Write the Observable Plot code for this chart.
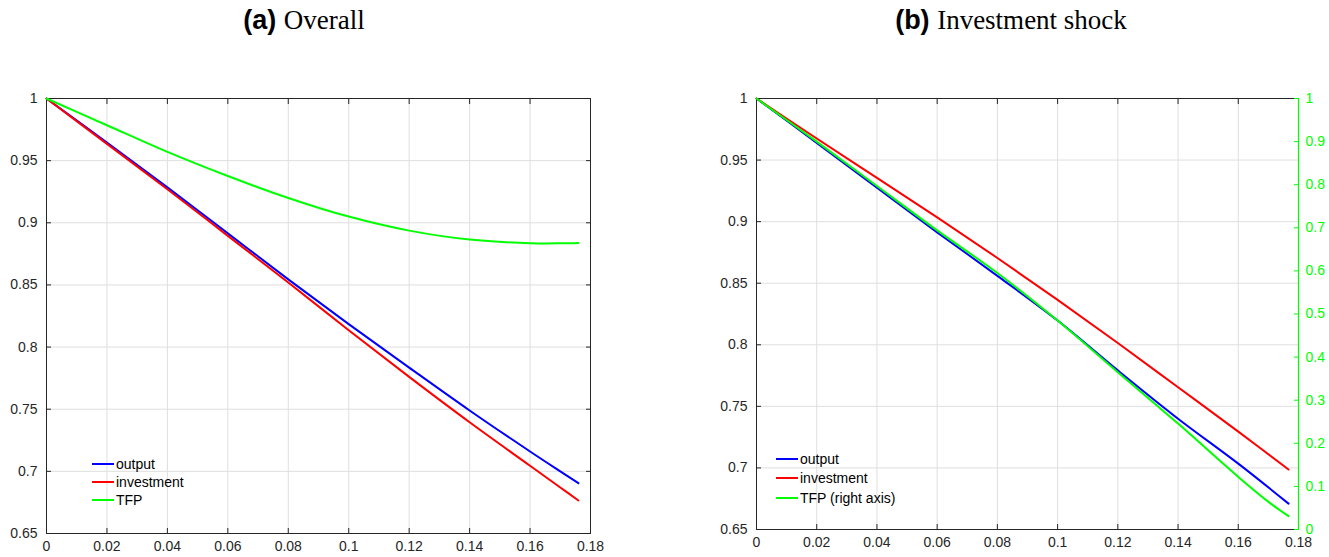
<!DOCTYPE html>
<html><head><meta charset="utf-8">
<script src="https://cdn.jsdelivr.net/npm/d3@7"></script>
<script src="https://cdn.jsdelivr.net/npm/@observablehq/plot@0.6"></script>
<style>
body{margin:0;background:#fff;}
#wrap{position:relative;width:1329px;height:557px;overflow:hidden;font-family:"Liberation Sans",Arial,sans-serif;color:#262626;}
.title{position:absolute;top:5px;font-size:27px;white-space:nowrap;transform:translateX(-50%);color:#000;}
.title b{font-family:"Liberation Sans",Arial,sans-serif;font-weight:bold;}
.title span{font-family:"Liberation Serif","Times New Roman",serif;}
.legend{position:absolute;font-size:14px;color:#000;}
.legend div{display:flex;align-items:center;}
.legend i{display:inline-block;width:22px;height:2px;margin-right:2px;}
.chart{position:absolute;top:60px;}
</style></head>
<body>
<div id="wrap">
  <div class="title" style="left:304px"><b>(a)</b> <span>Overall</span></div>
  <div class="title" style="left:1011px"><b>(b)</b> <span>Investment shock</span></div>
  <div id="chartA" class="chart" style="left:0px"></div>
  <div id="chartB" class="chart" style="left:700px"></div>
  <div id="legA" class="legend" style="left:92px;top:455px"></div>
  <div id="legB" class="legend" style="left:776px;top:449px"></div>
</div>
<script>
// ---- Panel (a) Overall ----
const xA = [0, 0.02, 0.04, 0.06, 0.08, 0.1, 0.12, 0.14, 0.16, 0.17, 0.176];
const outputA = [1, 0.9645, 0.9285, 0.8915, 0.8545, 0.8185, 0.7835, 0.7490, 0.7160, 0.7000, 0.6905];
const investmentA = [1, 0.9635, 0.9270, 0.8895, 0.8520, 0.8135, 0.7760, 0.7395, 0.7045, 0.6870, 0.6766];
const tfpA = [1, 0.9785, 0.9570, 0.9376, 0.9200, 0.9050, 0.8937, 0.8865, 0.8836, 0.8835, 0.8838];

// ---- Panel (b) Investment shock ----
const xB = [0, 0.02, 0.04, 0.06, 0.08, 0.1, 0.12, 0.14, 0.16, 0.1767];
const outputB = [1, 0.9640, 0.9276, 0.8913, 0.8560, 0.8197, 0.7792, 0.7400, 0.7035, 0.6710];
const investmentB = [1, 0.9675, 0.9355, 0.9035, 0.8705, 0.8365, 0.8015, 0.7655, 0.7295, 0.6987];
const xTfpB = [0, 0.02, 0.04, 0.06, 0.08, 0.1, 0.12, 0.14, 0.16, 0.1708, 0.1767];
const tfpB = [1, 0.900, 0.797, 0.694, 0.595, 0.485, 0.365, 0.2457, 0.122, 0.060, 0.031]; // right axis

const xTicks = [0, 0.02, 0.04, 0.06, 0.08, 0.1, 0.12, 0.14, 0.16, 0.18];
const yTicks = [0.65, 0.7, 0.75, 0.8, 0.85, 0.9, 0.95, 1];
const rightTicks = [0, 0.1, 0.2, 0.3, 0.4, 0.5, 0.6, 0.7, 0.8, 0.9, 1];

const seriesNames = ["output", "investment", "TFP"];
const colors = ["#0000ff", "#ff0000", "#00ff00"];

const fmt = d => String(+(+d).toFixed(2));
const AX = "#262626", GRID = "#dfdfdf";
const yMin = 0.65, yMax = 1;
const toLeft = v => yMin + (yMax - yMin) * v;   // right-axis value -> left scale
const fromLeft = v => (v - yMin) / (yMax - yMin);

function rows(xs, ys, s, map = d => d) { return xs.map((x, i) => ({x, y: map(ys[i]), s})); }

function baseMarks(rightGreen) {
  const m = [
    Plot.gridX(xTicks, {stroke: GRID, strokeOpacity: 1}),
    Plot.gridY(yTicks, {stroke: GRID, strokeOpacity: 1}),
    Plot.frame({stroke: AX}),
    Plot.axisX(xTicks, {anchor: "bottom", tickSize: -5, tickPadding: 13, tickFormat: fmt, label: null, stroke: AX, fill: AX, fontSize: 14}),
    Plot.axisX(xTicks, {anchor: "top", tickSize: -5, tickFormat: () => "", label: null, stroke: AX}),
    Plot.axisY(yTicks, {anchor: "left", tickSize: -5, tickPadding: 14, tickFormat: fmt, label: null, stroke: AX, fill: AX, fontSize: 14})
  ];
  if (rightGreen) {
    m.push(Plot.ruleX([0.18], {stroke: "#00ff00", strokeWidth: 1.2}));
    m.push(Plot.axisY(rightTicks.map(toLeft), {anchor: "right", tickSize: -5, tickPadding: 12,
      tickFormat: d => fmt(Math.round(fromLeft(d) * 10) / 10), label: null, stroke: "#00ff00", fill: "#00ff00", fontSize: 14}));
  } else {
    m.push(Plot.axisY(yTicks, {anchor: "right", tickSize: -5, tickFormat: () => "", label: null, stroke: AX}));
  }
  return m;
}

const commonScales = {
  x: {domain: [0, 0.18]},
  y: {domain: [yMin, yMax]},
  color: {domain: seriesNames, range: colors}
};

const dataA = [
  ...rows(xA, outputA, "output"),
  ...rows(xA, investmentA, "investment"),
  ...rows(xA, tfpA, "TFP")
];
const chartA = Plot.plot({
  width: 620, height: 497,
  marginLeft: 46, marginRight: 30, marginTop: 38, marginBottom: 24,
  style: {fontFamily: "Liberation Sans, Arial, sans-serif", fontSize: "14px", background: "transparent", overflow: "visible"},
  ...commonScales,
  marks: [
    ...baseMarks(false),
    Plot.line(dataA, {x: "x", y: "y", z: "s", stroke: "s", strokeWidth: 2, curve: "catmull-rom"})
  ]
});
document.getElementById("chartA").appendChild(chartA);

const dataB = [
  ...rows(xB, outputB, "output"),
  ...rows(xB, investmentB, "investment"),
  ...rows(xTfpB, tfpB, "TFP", toLeft)
];
const chartB = Plot.plot({
  width: 629, height: 497,
  marginLeft: 56, marginRight: 31, marginTop: 38, marginBottom: 28,
  style: {fontFamily: "Liberation Sans, Arial, sans-serif", fontSize: "14px", background: "transparent", overflow: "visible"},
  ...commonScales,
  marks: [
    ...baseMarks(true),
    Plot.line(dataB, {x: "x", y: "y", z: "s", stroke: "s", strokeWidth: 2, curve: "catmull-rom"})
  ]
});
document.getElementById("chartB").appendChild(chartB);

function legend(id, labels, rowH) {
  const el = document.getElementById(id);
  labels.forEach((lab, i) => {
    const r = document.createElement("div");
    r.style.height = rowH + "px";
    r.innerHTML = `<i style="background:${colors[i]}"></i><span>${lab}</span>`;
    el.appendChild(r);
  });
}
legend("legA", ["output", "investment", "TFP"], 18);
legend("legB", ["output", "investment", "TFP (right axis)"], 19.5);
</script>
</body></html>
